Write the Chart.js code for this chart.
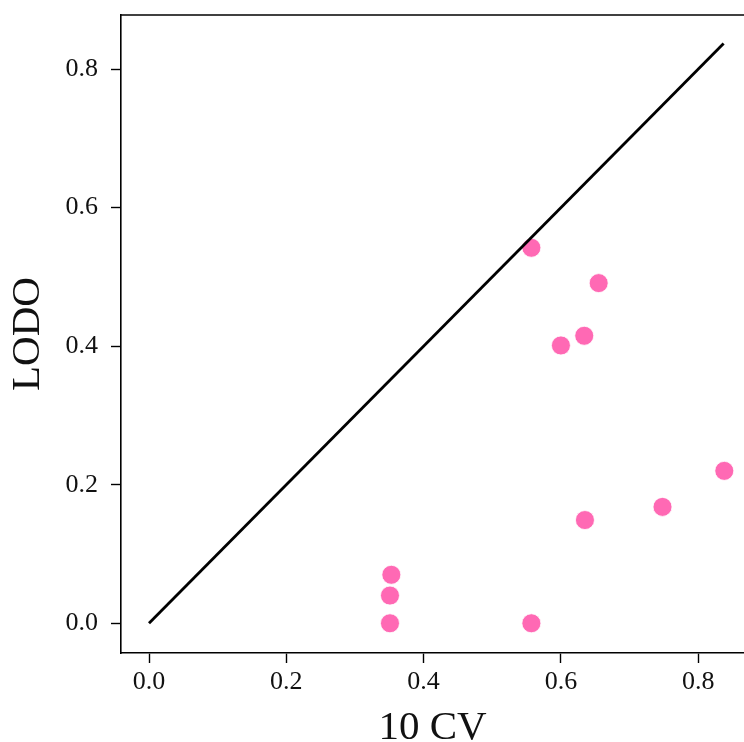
<!DOCTYPE html>
<html>
<head>
<meta charset="utf-8">
<script src="https://cdn.jsdelivr.net/npm/chart.js@4/dist/chart.umd.min.js"></script>
<style>
  html, body { margin: 0; padding: 0; background: #fff; overflow: hidden; }
  #wrap { width: 744px; height: 742px; }
</style>
</head>
<body>
<div id="wrap"><canvas id="myChart" width="744" height="742"></canvas></div>
<script>
// 10-fold CV score vs leave-one-dataset-out score
const cvScores   = [0.351, 0.351, 0.353, 0.557, 0.557, 0.655, 0.600, 0.634, 0.635, 0.748, 0.838];
const lodoScores = [0.000, 0.040, 0.070, 0.000, 0.542, 0.491, 0.401, 0.415, 0.149, 0.168, 0.220];
const diagonal   = [0, 0.837];
const tickValues = [0, 0.2, 0.4, 0.6, 0.8];

const serif = "'Liberation Serif', 'Times New Roman', serif";

const points = cvScores.map((v, i) => ({ x: v, y: lodoScores[i] }));
const line = diagonal.map(v => ({ x: v, y: v }));

// matplotlib-style top spine (right one is off-canvas)
const topSpine = {
  id: 'topSpine',
  afterDraw(chart) {
    const { ctx, chartArea } = chart;
    ctx.save();
    ctx.strokeStyle = '#000';
    ctx.lineWidth = 1.6;
    ctx.beginPath();
    ctx.moveTo(chartArea.left, chartArea.top);
    ctx.lineTo(chartArea.right, chartArea.top);
    ctx.stroke();
    ctx.restore();
  }
};

const fixTicks = function(scale) {
  scale.ticks = tickValues.map(v => ({ value: v }));
};

var ctx = document.getElementById("myChart").getContext('2d');
var scatterChart = new Chart(ctx, {
  type: 'scatter',
  data: {
    datasets: [
      {
        type: 'line',
        data: line,
        borderColor: '#000',
        borderWidth: 2.8,
        pointRadius: 0,
        fill: false,
        order: 0
      },
      {
        data: points,
        backgroundColor: '#ff69b4',
        borderColor: '#fff',
        borderWidth: 0.8,
        pointRadius: 9.5,
        order: 1
      }
    ]
  },
  options: {
    responsive: false,
    animation: false,
    layout: { autoPadding: false, padding: { top: 15, left: 0, right: 0, bottom: 0 } },
    plugins: {
      legend: { display: false },
      tooltip: { enabled: false }
    },
    scales: {
      x: {
        type: 'linear',
        min: -0.0408,
        max: 0.8667,
        afterBuildTicks: fixTicks,
        afterFit: s => { s.height = 89; s.paddingLeft = 0; s.paddingRight = 0; },
        border: { display: true, color: '#000', width: 1.6 },
        grid: { drawOnChartArea: false, drawTicks: true, tickLength: 10, tickWidth: 1.4, tickColor: '#000' },
        ticks: {
          color: '#111',
          padding: 4,
          maxRotation: 0,
          font: { family: serif, size: 26 },
          callback: v => v.toFixed(1)
        },
        title: {
          display: true,
          text: '10 CV',
          color: '#111',
          font: { family: serif, size: 41, lineHeight: 0.65 },
          padding: { top: 0, bottom: 0 }
        }
      },
      y: {
        type: 'linear',
        min: -0.0429,
        max: 0.878,
        afterBuildTicks: fixTicks,
        afterFit: s => { s.width = 121; s.paddingTop = 0; s.paddingBottom = 0; },
        border: { display: true, color: '#000', width: 1.6 },
        grid: { drawOnChartArea: false, drawTicks: true, tickLength: 10, tickWidth: 1.4, tickColor: '#000' },
        ticks: {
          color: '#111',
          padding: 13,
          font: { family: serif, size: 26 },
          callback: v => v.toFixed(1)
        },
        title: {
          display: true,
          text: 'LODO',
          color: '#111',
          font: { family: serif, size: 41 },
          padding: { top: 4, bottom: 0 }
        }
      }
    }
  },
  plugins: [topSpine]
});
</script>
</body>
</html>
